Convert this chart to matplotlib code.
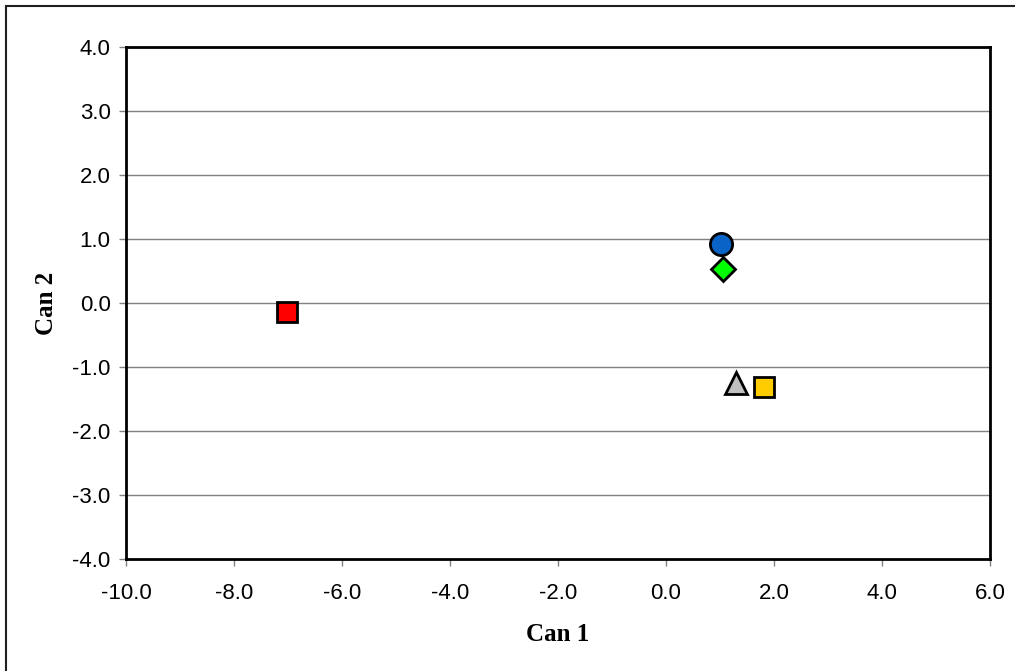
import matplotlib
matplotlib.use("Agg")
import matplotlib.pyplot as plt
from matplotlib.patches import Rectangle

# Data
groups = ["A", "B", "C", "D", "E"]
can1 = [-7.02, 1.01, 1.06, 1.30, 1.82]
can2 = [-0.14, 0.92, 0.53, -1.25, -1.32]
markers = ["s", "o", "D", "^", "s"]
colors = ["#ff0000", "#0a64c8", "#00ff00", "#c0c0c0", "#ffcc00"]
sizes = [15, 16, 12, 16, 15]
xticks = [-10, -8, -6, -4, -2, 0, 2, 4, 6]
yticks = [-4, -3, -2, -1, 0, 1, 2, 3, 4]

W, H = 1015, 671
fig = plt.figure(figsize=(W / 100, H / 100), dpi=100)
ax = fig.add_axes([126 / W, 1 - 559 / H, (990 - 126) / W, (559 - 47) / H])

for x, y, m, c, s in zip(can1, can2, markers, colors, sizes):
    ax.plot(x, y, marker=m, markersize=s, markerfacecolor=c,
            markeredgecolor="black", markeredgewidth=2, linestyle="none", zorder=3)

ax.set_xlim(-10, 6)
ax.set_ylim(-4, 4)
ax.set_xticks(xticks)
ax.set_yticks(yticks)
ax.set_xticklabels([f"{v:.1f}" for v in xticks], fontfamily="Liberation Sans", fontsize=16)
ax.set_yticklabels([f"{v:.1f}" for v in yticks], fontfamily="Liberation Sans", fontsize=16)
ax.tick_params(axis="both", direction="out", length=5, width=1, color="#808080")
ax.tick_params(axis="x", pad=12)
ax.tick_params(axis="y", pad=6)
ax.yaxis.grid(True, color="#808080", linewidth=1)
ax.set_axisbelow(True)
for sp in ax.spines.values():
    sp.set_linewidth(2)
    sp.set_color("black")

ax.set_xlabel("Can 1", fontfamily="Liberation Serif", fontweight="bold", fontsize=18, labelpad=14)
ax.set_ylabel("Can 2", fontfamily="Liberation Serif", fontweight="bold", fontsize=18, labelpad=10)

fig.patches.append(Rectangle((6 / W, -0.1), 1.2, 1 - 6 / H + 0.1, transform=fig.transFigure,
                             fill=False, edgecolor="#202020", linewidth=1.5, zorder=10))

fig.savefig("out.png", dpi=100)
